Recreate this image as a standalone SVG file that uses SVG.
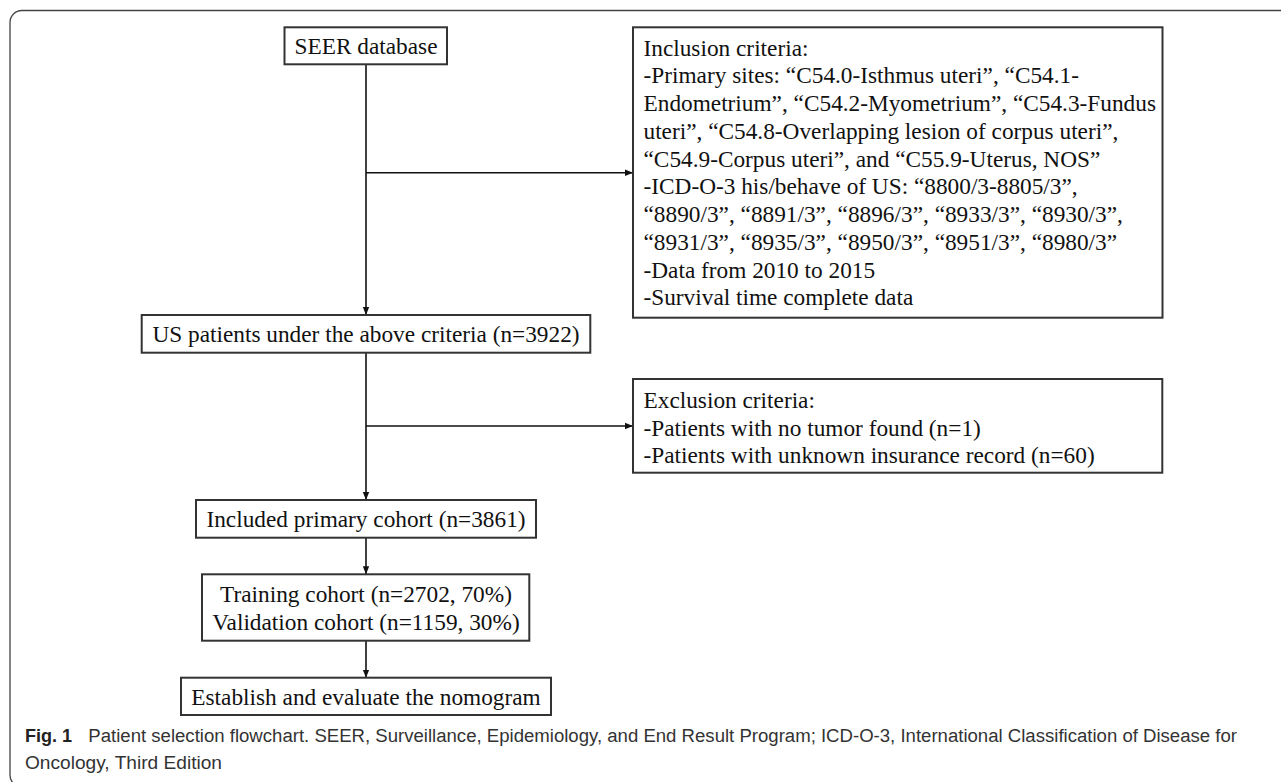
<svg xmlns="http://www.w3.org/2000/svg" width="1281" height="782" viewBox="0 0 1281 782">
  <defs>
    <marker id="ah" viewBox="0 0 10 10" refX="10" refY="5" markerWidth="8" markerHeight="8" markerUnits="userSpaceOnUse" orient="auto">
      <path d="M0,1 L10,5 L0,9 Z" fill="#111"/>
    </marker>
    <style>
      .box { fill: #fff; stroke: #333; stroke-width: 2; }
      .t { font-family: "Liberation Serif", "Times New Roman", serif; font-size: 23.3px; fill: #111; }
      .c { text-anchor: middle; }
      .conn { fill: none; stroke: #111; stroke-width: 1.6; }
      .cap { font-family: "Liberation Sans", Arial, sans-serif; font-size: 18px; fill: #333; }
      .capb { font-family: "Liberation Sans", Arial, sans-serif; font-size: 18px; font-weight: bold; fill: #222; }
    </style>
  </defs>
  <rect width="1281" height="782" fill="#fff"/>
  <path d="M1300,10.5 H22 A12,12 0 0 0 10,22.5 V775 A12,12 0 0 0 22,787 H1300" fill="none" stroke="#444" stroke-width="1.3"/>

  <g id="connectors">
    <line class="conn" x1="366" y1="64.3" x2="366" y2="315" marker-end="url(#ah)"/>
    <line class="conn" x1="366" y1="172.7" x2="633" y2="172.7" marker-end="url(#ah)"/>
    <line class="conn" x1="366" y1="352.7" x2="366" y2="500" marker-end="url(#ah)"/>
    <line class="conn" x1="366" y1="426" x2="633" y2="426" marker-end="url(#ah)"/>
    <line class="conn" x1="366" y1="537.7" x2="366" y2="574.3" marker-end="url(#ah)"/>
    <line class="conn" x1="366" y1="640.7" x2="366" y2="677.7" marker-end="url(#ah)"/>
  </g>

  <g id="seer">
    <rect class="box" x="284.5" y="27.3" width="162.5" height="37"/>
    <text class="t c" x="366" y="53.5">SEER database</text>
  </g>

  <g id="inclusion">
    <rect class="box" x="633" y="27.3" width="529.5" height="290.4"/>
    <text class="t" x="643.5" y="55.5">Inclusion criteria:</text>
    <text class="t" x="643.5" y="83.3">-Primary sites: “C54.0-Isthmus uteri”, “C54.1-</text>
    <text class="t" x="643.5" y="111">Endometrium”, “C54.2-Myometrium”, “C54.3-Fundus</text>
    <text class="t" x="643.5" y="138.8">uteri”, “C54.8-Overlapping lesion of corpus uteri”,</text>
    <text class="t" x="643.5" y="166.5">“C54.9-Corpus uteri”, and “C55.9-Uterus, NOS”</text>
    <text class="t" x="643.5" y="194.3">-ICD-O-3 his/behave of US: “8800/3-8805/3”,</text>
    <text class="t" x="643.5" y="222">“8890/3”, “8891/3”, “8896/3”, “8933/3”, “8930/3”,</text>
    <text class="t" x="643.5" y="249.8">“8931/3”, “8935/3”, “8950/3”, “8951/3”, “8980/3”</text>
    <text class="t" x="643.5" y="277.5">-Data from 2010 to 2015</text>
    <text class="t" x="643.5" y="305.3">-Survival time complete data</text>
  </g>

  <g id="us-patients">
    <rect class="box" x="141.7" y="315" width="448.6" height="37.7"/>
    <text class="t c" x="366" y="342">US patients under the above criteria (n=3922)</text>
  </g>

  <g id="exclusion">
    <rect class="box" x="633" y="379" width="529.3" height="93.7"/>
    <text class="t" x="643.5" y="407.5">Exclusion criteria:</text>
    <text class="t" x="643.5" y="435.5">-Patients with no tumor found (n=1)</text>
    <text class="t" x="643.5" y="463.3">-Patients with unknown insurance record (n=60)</text>
  </g>

  <g id="included">
    <rect class="box" x="196" y="500" width="340" height="37.7"/>
    <text class="t c" x="366" y="526.8">Included primary cohort (n=3861)</text>
  </g>

  <g id="cohorts">
    <rect class="box" x="202" y="574.3" width="327.3" height="66.4"/>
    <text class="t c" x="366" y="602">Training cohort (n=2702, 70%)</text>
    <text class="t c" x="366" y="630">Validation cohort (n=1159, 30%)</text>
  </g>

  <g id="establish">
    <rect class="box" x="181" y="677.7" width="370" height="37.3"/>
    <text class="t c" x="366" y="704.5">Establish and evaluate the nomogram</text>
  </g>

  <g id="caption">
    <text class="capb" x="25" y="741.7">Fig. 1</text>
    <text class="cap" x="88.3" y="741.7" textLength="1148.7" lengthAdjust="spacingAndGlyphs">Patient selection flowchart. SEER, Surveillance, Epidemiology, and End Result Program; ICD-O-3, International Classification of Disease for</text>
    <text class="cap" x="25" y="769.3" textLength="197" lengthAdjust="spacingAndGlyphs">Oncology, Third Edition</text>
  </g>
</svg>
